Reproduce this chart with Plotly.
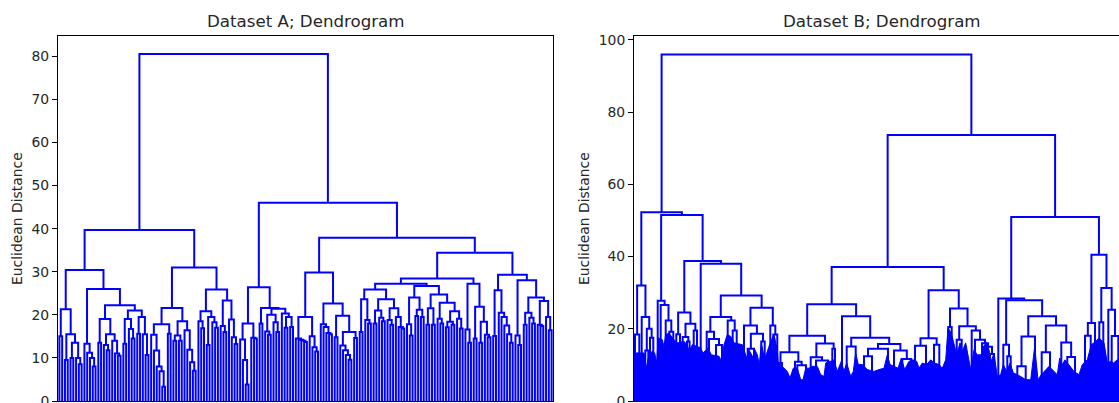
import plotly.graph_objects as go

# Nested merges: [height, left, right]. In A a 0 is the next leaf slot.
a_n1 = [21.3, [15, 0, 0], [15.5, [9.5, 0, 0], [13.5, [10, 0, 0], [10, 0, [8.5, 0, 0]]]]]
a_c = [13.3, 0, [11.2, 0, [10, 0, [8, 0, 0]]]]
a_d1 = [19, [13.5, 0, 0], [15.5, [13, 0, [11.8, 0, 0]], [14, 0, [11, 0, [10.5, 0, 0]]]]]
a_d2 = [21, [19, [13.3, 0, 0], [16.7, 0, [14.5, 0, 0]]], [19.5, [15.6, 0, 0], [15.5, 0, [10.7, 0, 0]]]]
a_n2 = [26, a_c, [22.2, a_d1, a_d2]]
a_e1 = [17.8, [15.4, 0, [11.7, 0, [8, 0, [6.9, 0, [3.3, 0, 0]]]]], [15.6, 0, 0]]
a_e2 = [18.5, [15.2, [14, 0, 0], [14, 0, 0]], [16.4, 0, [11.9, 0, [9, 0, [7, 0, 0]]]]]
a_f1 = [20.8, [18.5, 0, [16.9, 0, 0]], [19.5, [13, 0, 0], [18.3, 0, [17, 0, 0]]]]
a_f2 = [23.3, [17.4, 0, [16, 0, 0]], [18.9, 0, [14.8, 0, [13.2, 0, 0]]]]
a_left = [39.7, [30.4, a_n1, a_n2], [31, [21.6, a_e1, a_e2], [25.9, a_f1, a_f2]]]

a_g1 = [18, [14.3, 0, [9.5, 0, [3.8, 0, 0]]], [14.7, 0, [14.5, 0, 0]]]
a_g2 = [21.6, [18, 0, 0], [21.4,
        [20, [16.1, 0, [15.4, 0, 0]], [18.3, 0, [16, 0, 0]]],
        [20.3, 0, [19.5, [17, 0, 0], [17.2, 0, 0]]]]]
a_g = [26.4, a_g1, a_g2]
a_h1 = [19.5, [14.5, 0, [14.2, 0, [14, 0, [13.7, 0, 0]]]], [15, 0, [12.5, 0, [11.5, 0, 0]]]]
a_h2 = [22.6, [17.8, 0, [17.2, 0, [15.8, 0, [15.5, 0, 0]]]],
        [19.8, [14.8, 0, 0], [16, [12.9, 0, [11.8, 0, [10.7, 0, [9.6, 0, 0]]]], [14.6, 0, 0]]]]
a_h = [29.8, a_h1, a_h2]
a_j1 = [25.9, [23.6, [16, 0, 0], [18.8, 0, [18, 0, 0]]],
        [23.6, [21, [18, 0, 0], [19.3, 0, [18.5, 0, 0]]],
         [21.5, [18.8, 0, [17.7, 0, 0]], [19.5, 0, [17.2, 0, [16.8, 0, 0]]]]]]
a_j2 = [26.7, [24, [17.8, 0, [15.2, 0, 0]], [21.2, [19.7, 0, 0], [19.5, 0, 0]]],
        [24.7, [21.5, [17.7, 0, 0], [17.7, 0, 0]],
         [22.8, [19.1, 0, [18, 0, 0]],
          [20.8, [18.4, [17.1, 0, 0], [17.7, 0, 0]], [19.1, 0, [16.8, 0, 0]]]]]]
a_k = [27.2, [16.6, 0, [13.5, 0, 0]],
       [21.9, [14.5, 0, 0], [18.4, [13.5, 0, 0], [15.4, 0, [14.8, 0, 0]]]]]
a_l1 = [25.7, [15.1, 0, 0], [20.5, 0, [19.5, 0, [17.5, 0, [15.5, 0, [13.5, 0, 0]]]]]]
a_l2 = [28, [15.2, 0, [13, 0, 0]],
        [24, [20.5, [17.7, 0, 0], [19.3, 0, [18, 0, 0]]],
         [23.2, [17.7, 0, [17.4, 0, 0]], [19.5, 0, [16.4, 0, 0]]]]]
a_i = [34.4, [28.4, [27.2, a_j1, a_j2], a_k], [29.3, a_l1, a_l2]]
a_right = [46, a_g, [37.9, a_h, a_i]]
tree_a = [80.5, a_left, a_right]

# In B a bare number is the position of a cluster that sinks into the dense mass.
b_q = [32, [18.4, 1, 5.3], [23.3, 7.7, [20, [14, 11.3, 14.3], [17.5, 16, 19.3]]]]
b_r = [27.8, 23.7, [26.6, 26.7, [22.3, 31.7, [19.2, 35.3, 39.3]]]]
b_s = [24.5, [18.5, 42.3, 46], [21.4, [17.7, 48.7, [16.5, 53, 55.6]], [19.5, 59.7, 63]]]
b_t1 = [23.3, [19.2, 72.7, [17.2, 75, [15.5, 82, 88]]], [22.3, 93.7, [19.5, 98.7, 102.7]]]
b_t2 = [25.8, [20.9, 110, [18.6, [14.5, 113.7, 120], [16.5, 127.3, 130.7]]],
        [20.9, 136.3, [18.4, 139.3, 143.3]]]
b_left = [52.3, b_q, [51.5, b_r, [38.8, b_s, [38, 66.7, [29.2, b_t1, b_t2]]]]]

b_u1 = [18.1, [13.5, [10.5, 145, 148], [10.9, 161, [9.9, 163.3, 172]]],
        [15.9, [12.1, 176.7, [11.2, 182, 194]], [14.5, 198.3, 201]]]
b_u2 = [23.5, 208, [17.5, [15.1, 212.7, 221.7],
                    [15.8, [14.5, [12.4, 230, 238], 254], [14, 260, [11.6, 268.3, 277.3]]]]]
b_v = [30.7, [17.4, [15.3, 281, 292], [15.6, 300, 305.3]],
       [25.6, [20.5, 314.3, 317.7],
        [20.7, [17, 322.7, 327.7],
         [19.5, 337.7, [17, 341, [16, 348, [15, 350, [13, 356, 360]]]]]]]]
b_w = [28.4, 364.3, [27.9, [15.6, 369.3, [12.4, 373.3, 376.7]],
       [23.5, [17.9, [9.6, 383.3, 391.7], 401],
        [20.9, [13.5, 407.7, 416], [16.2, 427.3, [12.2, 433.3, 441]]]]]]
b_y = [40.5, [21.6, [18.1, 451, 456.7], 461],
       [31.3, [21.8, 465.3, 469.3], [25.3, 474.3, [18, 477.7, 484.3]]]]
tree_b = [96, b_left, [73.7, [37.1, [26.8, b_u1, b_u2], b_v], [51, b_w, b_y]]]

# Upper edge of the solid mass at the foot of panel B.
b_mass_x = [1.7, 10, 12.3, 15, 18.3, 20.7, 22.7, 24, 28.3, 30, 31.7, 35, 40, 43.3, 50, 53.3, 55, 58.3,
            63.3, 66.7, 69, 74, 77.3, 85, 87.7, 90, 93.3, 96.7, 100, 108.3, 112.7, 115, 119.3,
            120, 123.3, 125.3, 127.3, 129.3, 131.7, 136.7, 140, 143.3, 144.3, 146.7, 150, 153.3, 156,
            159.3, 163.3, 166.7, 169, 171.7, 175, 178.3, 183.3, 186.7, 190, 191.7, 195, 197.3, 200,
            203.3, 207.3, 210, 212.7, 216.7, 219.3, 221.7, 224.3, 228.3, 233.3, 238.3,
            240, 245, 250, 253.3, 256, 260, 264, 267.3, 270.7, 275, 279.3, 282.7, 285, 288.3, 292.7,
            296.7, 300.7, 305, 308.3, 311.7, 314, 317.3, 320, 322.7, 326, 328.3, 331.7, 335, 336.7,
            340, 343.3, 348.3, 351.7, 355, 357.3,
            360, 363.3, 366.7, 369.3, 372.7, 376, 379.3, 383.3, 386.7, 391.7, 396.7, 400.7, 404,
            407.3, 410.7, 415, 420, 423.3, 425.7, 428.3, 431, 435, 440, 445, 448.3, 453.3, 457.3,
            461.7, 465, 470, 473.3, 476.7, 479.3, 483.3]
b_mass = [13.3, 13.3, 9.1, 12.8, 13.8, 13.3, 10.5, 17.5, 17, 15.1, 18.4, 18.8, 17, 16.1, 16.5, 15.6, 13.8, 15.6,
          15.1, 14.7, 13.3, 14.7, 12.8, 12.4, 11, 15.6, 18.4, 17.9, 16.1, 15.6, 11.9, 14.2, 11.9,
          14.7, 12.8, 10.1, 16.1, 13.3, 12.4, 16.5, 18.4, 14.2, 10.5, 10.1, 9.1, 8.2, 6.4,
          9.1, 9.1, 5.9, 5.9, 9.1, 9.1, 9.6, 9.6, 7.3, 6.8, 10.5, 11, 11, 11.4,
          8.2, 11, 8.2, 10.5, 6.8, 8.2, 13.3, 10.1, 10.1, 8.7, 8.2,
          8.2, 8.7, 9.1, 12.8, 10.1, 9.6, 9.1, 11.9, 8.7, 11, 11.4, 11, 9.1, 10.5, 10.1,
          11.4, 10.5, 10.1, 9.1, 11.4, 20.2, 18.8, 15.6, 12.8, 16.1, 13.8, 16.1, 11.4, 8.7,
          14.2, 12.8, 12.8, 16.5, 14.2, 11,
          13.3, 6.8, 7.3, 10.1, 8.2, 10.5, 7.8, 7.3, 6.8, 5.9, 5.9, 15.1, 5.9,
          7.3, 8.2, 9.6, 8.2, 7.3, 11.9, 10.1, 11.4, 10.1, 8.2, 7.3, 10.1, 11.4, 15.6,
          16.5, 17.5, 16.1, 10.5, 11, 10.5, 11.4]

titles = ["Dataset A; Dendrogram", "Dataset B; Dendrogram"]
y_title = "Euclidean Distance"
a_ticks = [0, 10, 20, 30, 40, 50, 60, 70, 80]
b_ticks = [0, 20, 40, 60, 80, 100]

BLUE = "#0000ff"
TEXT = "#262626"
W, H = 1119, 403


def segments(tree, slot_leaves):
    xs, ys = [], []
    slot = [0]

    def walk(node):
        if not isinstance(node, list):
            if slot_leaves:
                x = 10 * slot[0] + 5
                slot[0] += 1
                return x, 0
            return node, 0
        h, left, right = node
        xl, yl = walk(left)
        xr, yr = walk(right)
        xs.extend([xl, xl, xr, xr, None])
        ys.extend([yl, h, h, yr, None])
        return (xl + xr) / 2, h

    walk(tree)
    return xs, ys, slot[0]


ax, ay, a_n = segments(tree_a, True)
bx, by, _ = segments(tree_b, False)

fig = go.Figure()
line = dict(color=BLUE, width=2)
fig.add_trace(go.Scatter(x=ax, y=ay, mode="lines", line=line, xaxis="x", yaxis="y", hoverinfo="skip"))
fig.add_trace(go.Scatter(x=[0] + b_mass_x + [485], y=[b_mass[0]] + b_mass + [b_mass[-1]], mode="lines",
                         line=dict(color=BLUE, width=1), fill="tozeroy", fillcolor=BLUE,
                         xaxis="x2", yaxis="y2", hoverinfo="skip"))
fig.add_trace(go.Scatter(x=bx, y=by, mode="lines", line=line, xaxis="x2", yaxis="y2", hoverinfo="skip"))

axis_font = dict(family="DejaVu Sans", size=13.9, color=TEXT)
common_y = dict(showgrid=False, zeroline=False, showline=True, linecolor="black", linewidth=1,
                ticks="outside", ticklen=5, tickcolor="black", tickfont=axis_font,
                ticklabeloverflow="allow", automargin=False)
common_x = dict(showgrid=False, zeroline=False, showline=True, linecolor="black", linewidth=1,
                mirror=True, showticklabels=False, ticks="", automargin=False)

fig.update_layout(
    width=W, height=H, margin=dict(l=0, r=0, t=36, b=2, autoexpand=False), showlegend=False,
    paper_bgcolor="white", plot_bgcolor="white",
    xaxis=dict(common_x, domain=[58 / W, 553 / W], range=[0, 10 * a_n]),
    yaxis=dict(common_y, range=[0, 84.7], tickvals=a_ticks, mirror=True, anchor="x"),
    xaxis2=dict(common_x, domain=[634 / W, 1], range=[0, 485], anchor="y2"),
    yaxis2=dict(common_y, range=[0, 101.1], tickvals=b_ticks, anchor="x2"),
)

plot_h = H - 36 - 2


def paper_y(page_y):
    return (H - 2 - page_y) / plot_h


for cx, text in zip([305.5, 881.5], titles):
    fig.add_annotation(x=cx / W, y=paper_y(22), xref="paper", yref="paper",
                       xanchor="center", yanchor="middle", text=text, showarrow=False,
                       font=dict(family="DejaVu Sans", size=16.67, color=TEXT))
for cx in [17, 584]:
    fig.add_annotation(x=cx / W, y=paper_y(219), xref="paper", yref="paper",
                       xanchor="center", yanchor="middle", text=y_title, textangle=-90,
                       showarrow=False, font=dict(family="DejaVu Sans", size=13.9, color=TEXT))

fig.write_html("out.html", config=dict(displayModeBar=False),
               post_script="document.body.style.margin='0';document.body.style.overflow='hidden';")
